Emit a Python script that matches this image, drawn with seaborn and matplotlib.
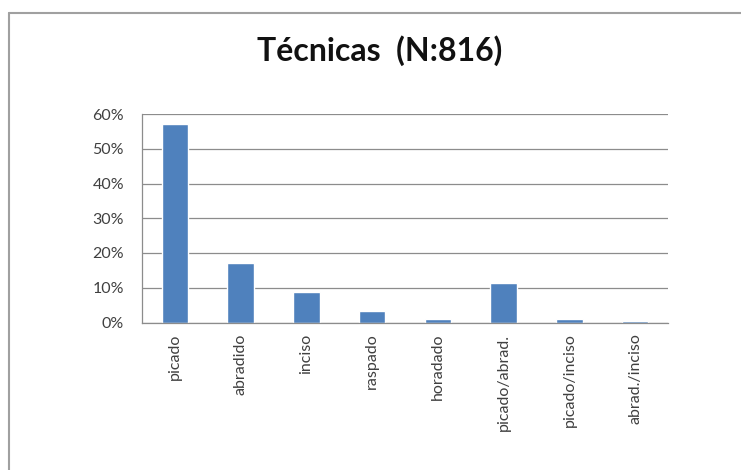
import matplotlib
matplotlib.use("Agg")
import matplotlib.pyplot as plt
import matplotlib.lines as mlines
from matplotlib.ticker import PercentFormatter, FixedLocator
import seaborn as sns
import pandas as pd

# ----------------------------------------------------------
# Data
# ----------------------------------------------------------
categories = ["picado", "abradido", "inciso", "raspado", "horadado",
              "picado/abrad.", "picado/inciso", "abrad./inciso"]
shares = [0.572, 0.172, 0.088, 0.034, 0.010, 0.115, 0.010, 0.004]
y_ticks = [0.0, 0.1, 0.2, 0.3, 0.4, 0.5, 0.6]
title_text = "Técnicas  (N:816)"

df = pd.DataFrame({"tecnica": categories, "pct": shares})

sns.set_style("white")
plt.rcParams["font.family"] = ["Lato", "DejaVu Sans"]

fig = plt.figure(figsize=(7.41, 4.70), dpi=100)
ax = fig.add_axes([142 / 741, 1 - 322.5 / 470, (668 - 142) / 741, (322.5 - 114) / 470])

sns.barplot(data=df, x="tecnica", y="pct", color="#4F81BD", width=0.4,
            saturation=1, ax=ax)

ax.set_ylim(0, 0.6)
ax.set_xlim(-0.5, len(categories) - 0.5)
ax.yaxis.set_major_locator(FixedLocator(y_ticks))
ax.yaxis.set_major_formatter(PercentFormatter(1.0, decimals=0))
ax.grid(axis="y", color="#8c8c8c", linewidth=0.9)
ax.set_axisbelow(True)

for side in ["top", "right"]:
    ax.spines[side].set_visible(False)
for side in ["left", "bottom"]:
    ax.spines[side].set_color("#8c8c8c")
    ax.spines[side].set_linewidth(0.9)

# category ticks sit at the boundaries between bars, labels at bar centres
ax.set_xticks([i - 0.5 for i in range(len(categories) + 1)])
ax.set_xticklabels([])
ax.set_xticks(range(len(categories)), minor=True)
ax.set_xticklabels(categories, minor=True, rotation=90, fontsize=11.5, color="#404040")
ax.tick_params(axis="x", which="major", length=5, color="#8c8c8c", direction="out")
ax.tick_params(axis="x", which="minor", length=0, pad=8)
ax.tick_params(axis="y", length=5, color="#8c8c8c", labelsize=11.5,
               labelcolor="#404040", pad=8)

ax.set_xlabel("")
ax.set_ylabel("")

fig.text(380 / 741, 1 - 51 / 470, title_text, ha="center", va="center",
         fontsize=23, fontweight="bold", color="#111111")

# outer chart border (only left and top edges fall inside the picture)
fig.add_artist(mlines.Line2D([9 / 741, 9 / 741], [0, 1 - 13 / 470],
                             transform=fig.transFigure, color="#a0a0a0", linewidth=1.5))
fig.add_artist(mlines.Line2D([9 / 741, 1], [1 - 13 / 470, 1 - 13 / 470],
                             transform=fig.transFigure, color="#a0a0a0", linewidth=1.5))

fig.savefig("out.png", dpi=100)
